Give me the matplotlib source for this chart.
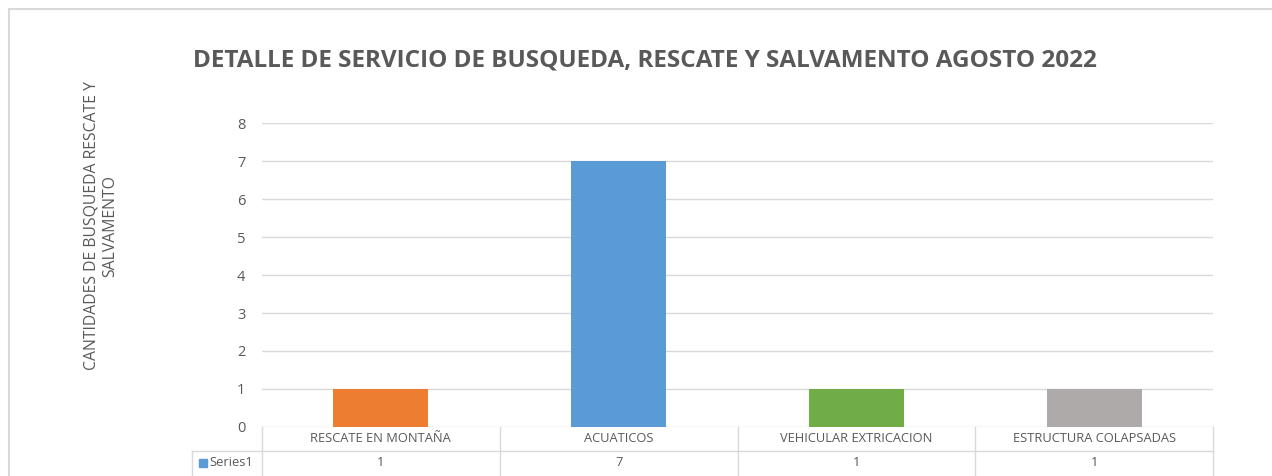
import matplotlib
matplotlib.use("Agg")
import matplotlib.pyplot as plt
from matplotlib.patches import Rectangle
from matplotlib.transforms import blended_transform_factory

categories = ["RESCATE EN MONTAÑA", "ACUATICOS", "VEHICULAR EXTRICACION", "ESTRUCTURA COLAPSADAS"]
values = [1, 7, 1, 1]
colors = ["#ED7D31", "#5B9BD5", "#70AD47", "#AEAAAA"]
series_name = "Series1"
title = "DETALLE DE SERVICIO DE BUSQUEDA, RESCATE Y SALVAMENTO AGOSTO 2022"
ylabel = "CANTIDADES DE BUSQUEDA RESCATE Y\nSALVAMENTO"

W, H = 1272, 476
plt.rcParams['font.family'] = ['Open Sans', 'DejaVu Sans']
fig = plt.figure(figsize=(W/100, H/100), dpi=100)
txt = "#595959"
grid = "#D9D9D9"

# chart border
fig.patches.append(Rectangle((8.5/W, -0.1), 2.0, 1 - 8.5/H + 0.1, transform=fig.transFigure,
                             fill=False, edgecolor="#D9D9D9", lw=1.5))

left, right, top, bottom = 262, 1213, 123, 427
ax = fig.add_axes([left/W, 1 - bottom/H, (right-left)/W, (bottom-top)/H])
x = list(range(len(categories)))
ax.bar(x, values, width=0.4, color=colors, zorder=3)
ax.set_xlim(-0.5, len(categories) - 0.5)
ax.set_ylim(0, 8)
ax.set_yticks(range(0, 9))
ax.yaxis.grid(True, color=grid, lw=1)
ax.set_axisbelow(True)
for s in ax.spines.values():
    s.set_visible(False)
ax.tick_params(axis='y', length=0, labelsize=10.5, labelcolor=txt, pad=12)
ax.tick_params(axis='x', length=0, labelbottom=False)

fig.text(645/W, 1 - 61/H, title, ha='center', va='center', fontsize=17.5,
         fontweight='bold', color=txt)
fig.text(101/W, 1 - 226/H, ylabel, rotation=90, ha='center', va='center',
         fontsize=11.3, color=txt, linespacing=1.2)

# data table
ph = bottom - top
r1 = 24 / ph
r2 = 48 / ph
tr = blended_transform_factory(ax.transData, ax.transAxes)
lkw = dict(color=grid, lw=1, clip_on=False, transform=tr)
xl = -0.5 - (left - 192) / ((right - left) / len(categories))
ax.plot([-0.5, len(categories) - 0.5], [-r1, -r1], **lkw)
ax.plot([xl, -0.5], [-r1, -r1], **lkw)
ax.plot([xl, xl], [-r1, -r2 - 0.05], **lkw)
for i in range(len(categories) + 1):
    ax.plot([i - 0.5, i - 0.5], [0, -r2 - 0.05], **lkw)
fs = 9.3
for i, (c, v) in enumerate(zip(categories, values)):
    ax.text(i, -r1/2, c, transform=tr, ha='center', va='center', fontsize=fs, color=txt)
    ax.text(i, -r1 - r1/2, str(v), transform=tr, ha='center', va='center', fontsize=fs, color=txt)
ax.add_patch(Rectangle((xl + 0.03, -r1 - r1/2 - 0.014), 0.035, 0.028, transform=tr,
                       color=colors[1], clip_on=False))
ax.text(xl + 0.072, -r1 - r1/2, series_name, transform=tr, ha='left', va='center',
        fontsize=fs, color=txt)

fig.savefig("out.png", dpi=100)
